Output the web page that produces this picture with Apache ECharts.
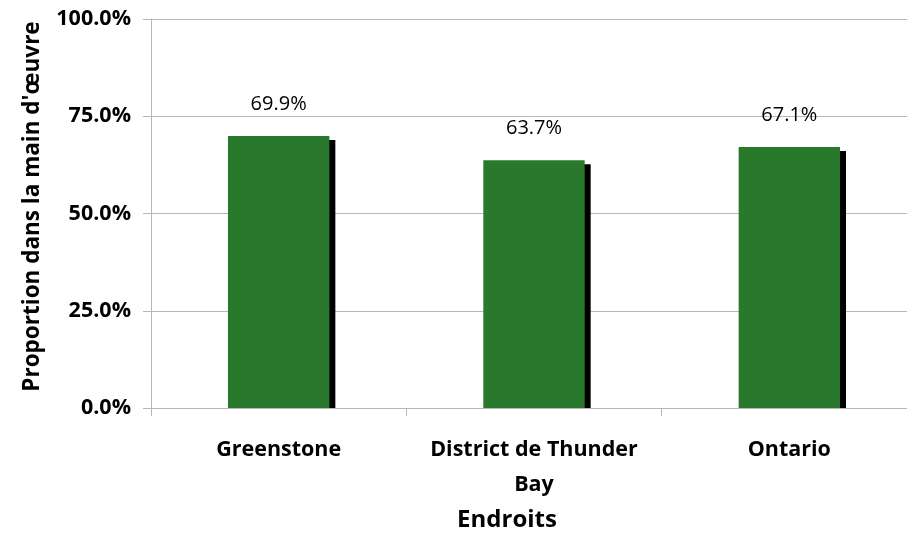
<!DOCTYPE html>
<html>
<head>
<meta charset="utf-8">
<script src="https://cdn.jsdelivr.net/npm/echarts@6/dist/echarts.min.js"></script>
<style>html,body{margin:0;padding:0;background:#fff;overflow:hidden}#c{width:907px;height:533px}</style>
</head>
<body>
<div id="c"></div>
<script>
const categories = ['Greenstone', 'District de Thunder Bay', 'Ontario'];
const values = [0.699, 0.637, 0.671];
const yTicks = [0, 0.25, 0.5, 0.75, 1.0];
const xTitle = 'Endroits';
const yTitle = "Proportion dans la main d'œuvre";

const FONT = '"Open Sans", sans-serif';
const chart = echarts.init(document.getElementById('c'));
const green = '#29792D';
chart.setOption({
  animation: false,
  backgroundColor: '#fff',
  grid: { left: 151, top: 19, width: 766, height: 389, containLabel: false, outerBoundsMode: 'none' },
  xAxis: {
    type: 'category',
    data: categories,
    name: xTitle,
    nameLocation: 'middle',
    nameGap: 100,
    nameTextStyle: { fontFamily: FONT, fontWeight: 'bold', fontSize: 24, color: '#000', padding: [0, 54, 0, 0] },
    axisLine: { show: true, lineStyle: { color: '#B7B7B7', width: 1 } },
    axisTick: { show: true, interval: 0, length: 8, lineStyle: { color: '#B7B7B7' } },
    axisLabel: {
      interval: 0, hideOverlap: false,
      margin: 24,
      fontFamily: FONT, fontWeight: 'bold', fontSize: 21.5, color: '#000', lineHeight: 35,
      formatter: v => v.replace(' Bay', '\nBay')
    },
    z: 5
  },
  yAxis: {
    type: 'value',
    min: yTicks[0], max: yTicks[yTicks.length - 1], interval: 0.25,
    name: yTitle,
    nameLocation: 'middle',
    nameGap: 107,
    nameRotate: 90,
    nameTextStyle: { fontFamily: FONT, fontWeight: 'bold', fontSize: 22.5, color: '#000', padding: [0, 0, 0, 14] },
    axisLine: { show: true, lineStyle: { color: '#B7B7B7', width: 1 } },
    axisTick: { show: true, length: 8, lineStyle: { color: '#B7B7B7' } },
    splitLine: { show: true, lineStyle: { color: '#B7B7B7', width: 1 } },
    axisLabel: {
      margin: 20,
      fontFamily: FONT, fontWeight: 'bold', fontSize: 21.5, color: '#000',
      formatter: v => (v * 100).toFixed(1) + '%'
    }
  },
  series: [
    {
      type: 'custom',
      data: values.map((v, i) => [i, v]),
      z: 1,
      renderItem: (params, api) => {
        const top = api.coord([api.value(0), api.value(1)]);
        const base = api.coord([api.value(0), 0]);
        const w = api.size([1, 0])[0] * 0.397;
        return {
          type: 'rect',
          shape: { x: top[0] - w / 2 + 6, y: top[1] + 4, width: w, height: base[1] - top[1] - 4 },
          style: { fill: '#000' }
        };
      }
    },
    {
      type: 'bar',
      data: values,
      barWidth: '39.7%',
      z: 2,
      itemStyle: { color: green },
      label: {
        show: true, position: 'top', distance: 22,
        fontFamily: FONT, fontSize: 20, color: '#000',
        formatter: p => (p.value * 100).toFixed(1) + '%'
      }
    }
  ]
});
</script>
</body>
</html>
